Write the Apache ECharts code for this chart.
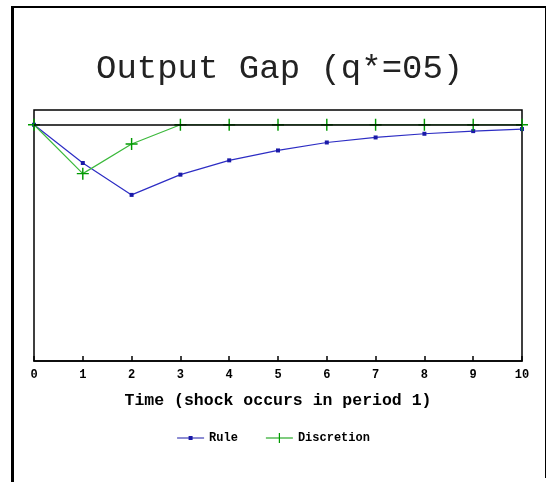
<!DOCTYPE html>
<html>
<head>
<meta charset="utf-8">
<script src="https://cdn.jsdelivr.net/npm/echarts@6/dist/echarts.min.js"></script>
<style>
  html, body { margin: 0; padding: 0; background: #fff; }
  #chart { width: 547px; height: 482px; }
</style>
</head>
<body>
<div id="chart"></div>
<script>
const periods = [0, 1, 2, 3, 4, 5, 6, 7, 8, 9, 10];
const rule = [0, -0.259, -0.475, -0.338, -0.241, -0.174, -0.120, -0.086, -0.061, -0.043, -0.029];
const discretion = [0, -0.331, -0.130, 0, 0, 0, 0, 0, 0, 0, 0];

const mono = 'Liberation Mono';
const plus = 'path://M4.4,0h1.2v4.4h4.4v1.2h-4.4v4.4h-1.2v-4.4h-4.4v-1.2h4.4z';
// legend icons: a short line with the series marker in the middle
const ruleIcon = 'path://M0,4.4h27v1.2h-27z M11.5,3h4v4h-4z';
const discIcon = 'path://M0,4.4h27v1.2h-27z M12.9,0h1.2v10h-1.2z';

const hiddenY = {
  axisLine: { show: false },
  axisTick: { show: false },
  axisLabel: { show: false },
  splitLine: { show: false }
};

const myChart = echarts.init(document.getElementById('chart'), null, { renderer: 'canvas' });

let option = {
  animation: false,
  title: {
    text: 'Output Gap (q*=05)',
    left: 91,
    top: 47,
    textStyle: { fontFamily: mono, fontSize: 34, fontWeight: 'normal', color: '#222' }
  },
  // outer frame of the original figure
  graphic: [
    { type: 'rect', shape: { x: 11, y: 6, width: 3, height: 476 }, style: { fill: '#000' }, silent: true },
    { type: 'rect', shape: { x: 11, y: 6, width: 534, height: 2 }, style: { fill: '#000' }, silent: true },
    { type: 'rect', shape: { x: 545, y: 6, width: 1, height: 472 }, style: { fill: '#000' }, silent: true }
  ],
  grid: {
    left: 34, right: 25, top: 110, bottom: 121,
    show: true, borderColor: '#000', borderWidth: 1.5, backgroundColor: 'transparent'
  },
  legend: {
    top: 427,
    left: 'center',
    itemWidth: 27,
    itemHeight: 10,
    itemGap: 28,
    textStyle: { fontFamily: mono, fontWeight: 'bold', fontSize: 12, color: '#000' },
    data: [
      { name: 'Rule', icon: ruleIcon },
      { name: 'Discretion', icon: discIcon }
    ]
  },
  xAxis: {
    type: 'value',
    min: 0,
    max: 10,
    interval: 1,
    name: 'Time (shock occurs in period 1)',
    nameLocation: 'middle',
    nameGap: 31,
    nameTextStyle: { fontFamily: mono, fontWeight: 'bold', fontSize: 16.5, color: '#000' },
    // sit on the zero of the helper axis, i.e. the bottom of the plot
    axisLine: { onZero: true, onZeroAxisIndex: 1, lineStyle: { color: '#000', width: 1.5 } },
    axisTick: { inside: true, length: 5, lineStyle: { color: '#000', width: 1.5 } },
    axisLabel: { fontFamily: mono, fontWeight: 'bold', fontSize: 12, color: '#000', margin: 8 },
    splitLine: { show: false }
  },
  yAxis: [
    Object.assign({ type: 'value', min: -1.6, max: 0.1 }, hiddenY),
    Object.assign({ type: 'value', min: 0, max: 1 }, hiddenY)
  ],
  series: [
    {
      name: 'Rule',
      type: 'line',
      data: periods.map((t, i) => [t, rule[i]]),
      symbol: 'rect',
      symbolSize: 4,
      showAllSymbol: true,
      lineStyle: { color: '#2d2dc4', width: 1.2 },
      itemStyle: { color: '#1a1aa8' },
      z: 3,
      markLine: {
        silent: true,
        symbol: 'none',
        label: { show: false },
        lineStyle: { color: '#000', width: 1.5, type: 'solid' },
        data: [{ yAxis: 0 }]
      }
    },
    {
      name: 'Discretion',
      type: 'line',
      data: periods.map((t, i) => [t, discretion[i]]),
      symbol: plus,
      symbolSize: 12,
      showAllSymbol: true,
      lineStyle: { color: '#3cb93c', width: 1.2 },
      itemStyle: { color: '#009a00' },
      z: 4
    }
  ]
};

option && myChart.setOption(option);
</script>
</body>
</html>
